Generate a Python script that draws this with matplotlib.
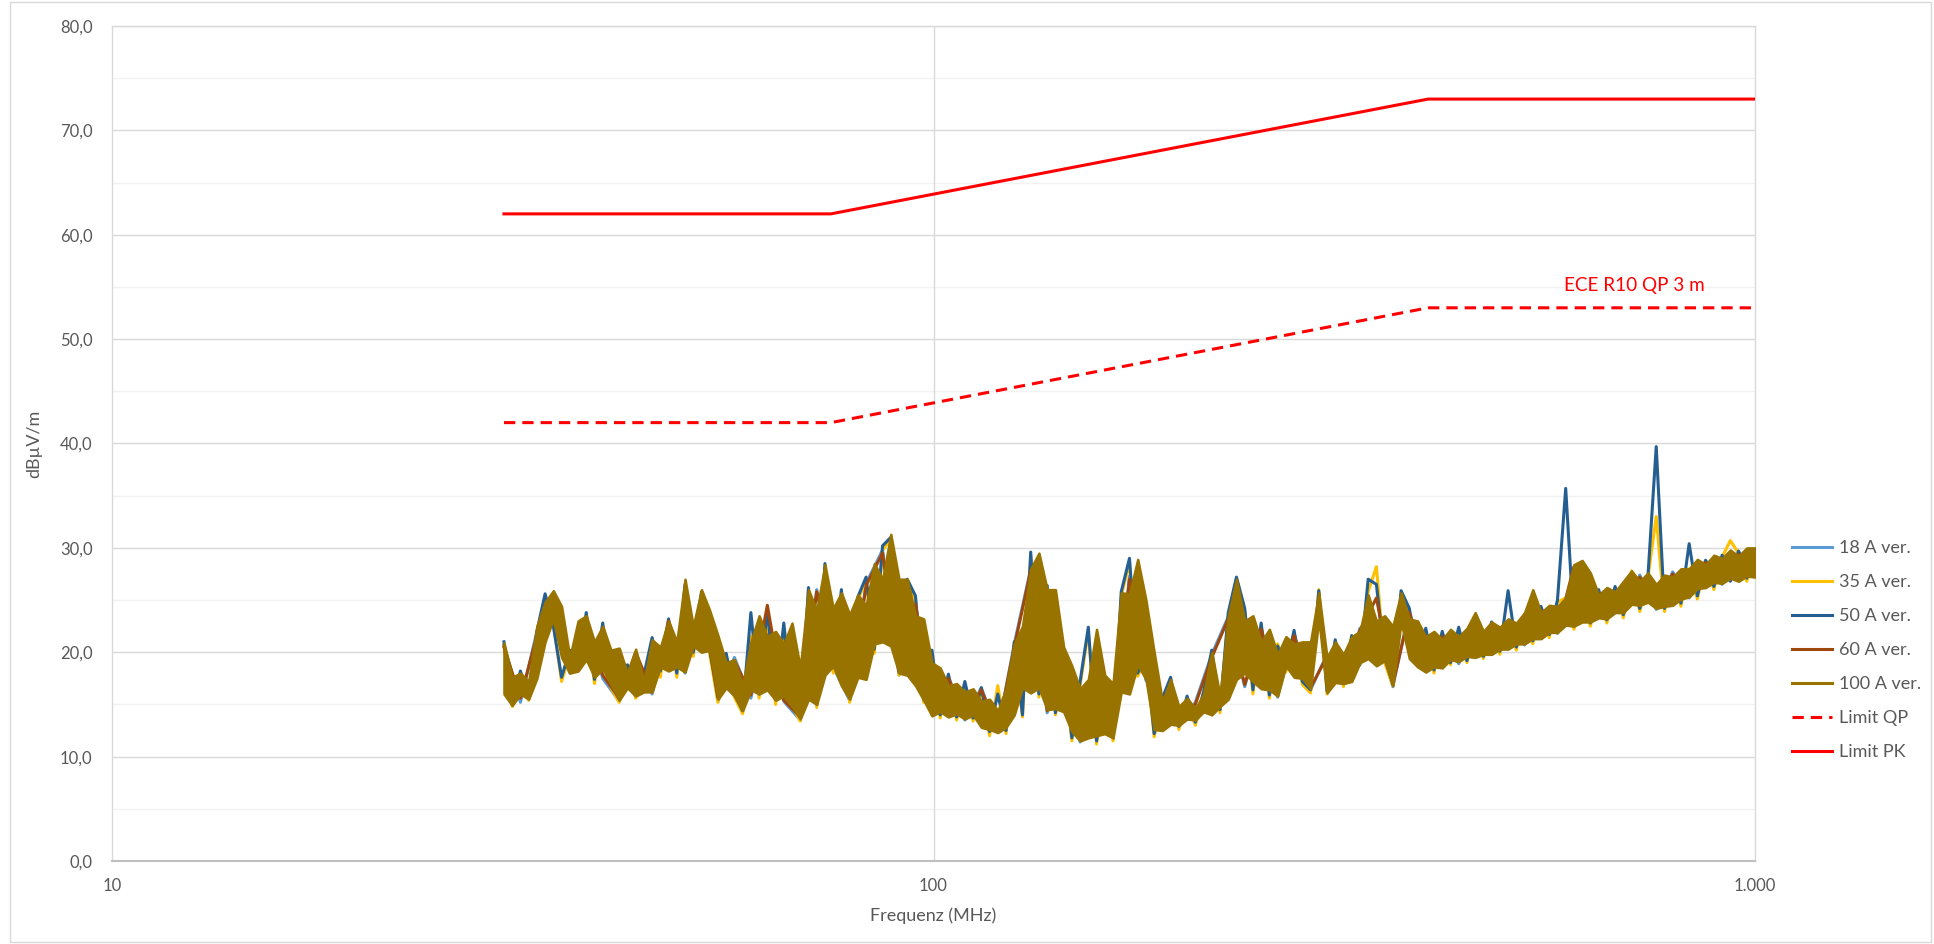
import numpy as np
import matplotlib
matplotlib.use("Agg")
import matplotlib.pyplot as plt
from matplotlib.patches import Rectangle
from matplotlib.lines import Line2D
from matplotlib.ticker import NullLocator

plt.rcParams['font.family'] = ['Lato', 'DejaVu Sans']

# limit lines (ECE R10, 3 m)
f_limit = [30, 75, 400, 1000]
limit_qp = [42, 42, 53, 53]
limit_pk = [62, 62, 73, 73]

# sweep grids (MHz), log spaced 30..1000
f_mid = np.geomspace(30, 1000, 153)
f_coarse = np.geomspace(30, 1000, 77)

# 100 A ver.: dense trace -> max / min per grid step (dBuV/m)
hi100 = [20.9, 17.6, 18.0, 17.2, 22.5, 24.8, 25.9, 24.4, 19.5, 23.0,
         23.5, 21.0, 22.5, 20.2, 20.4, 18.0, 20.3, 17.2, 21.2, 20.5,
         23.0, 21.0, 27.0, 22.5, 26.0, 24.0, 21.6, 19.0, 19.3, 16.8,
         21.0, 23.5, 21.5, 22.0, 20.8, 22.8, 18.5, 26.0, 24.0, 28.4,
         24.2, 25.7, 23.6, 25.5, 24.5, 28.5, 27.0, 31.3, 27.0, 27.0,
         23.5, 23.2, 19.0, 18.5, 16.8, 17.0, 16.2, 16.5, 15.3, 15.5,
         14.4, 16.5, 20.8, 22.5, 28.0, 29.5, 26.0, 26.0, 20.5, 18.7,
         16.5, 17.4, 22.2, 17.8, 17.0, 25.7, 25.6, 28.9, 25.0, 20.0,
         15.3, 17.4, 14.8, 15.6, 14.6, 16.0, 20.0, 15.8, 23.5, 27.0,
         23.0, 23.5, 21.0, 22.2, 19.8, 21.5, 20.8, 21.0, 21.0, 25.7,
         19.5, 21.0, 19.8, 21.5, 22.0, 25.5, 23.0, 23.5, 22.5, 25.7,
         23.2, 23.0, 21.5, 22.0, 21.2, 22.2, 21.5, 22.3, 23.8, 22.0,
         22.9, 22.4, 23.2, 22.8, 23.8, 26.0, 23.8, 24.5, 24.4, 25.2,
         28.4, 28.8, 27.6, 25.5, 26.2, 25.8, 26.8, 27.8, 26.8, 27.6,
         26.5, 27.4, 27.2, 28.0, 28.0, 28.9, 28.4, 29.3, 29.0, 29.8,
         29.2, 30.0, 30.0]
lo100 = [16.0, 14.9, 16.0, 15.5, 17.5, 21.0, 23.2, 19.5, 18.0, 18.2,
         19.3, 17.6, 18.4, 16.9, 15.4, 16.6, 15.8, 16.2, 16.2, 18.6,
         18.2, 18.6, 18.1, 20.6, 20.0, 20.2, 15.5, 16.6, 15.8, 14.4,
         16.4, 16.0, 16.4, 15.4, 15.8, 14.8, 13.6, 15.5, 15.0, 17.8,
         18.7, 16.8, 15.5, 17.6, 17.4, 20.8, 21.0, 20.6, 18.0, 17.8,
         16.8, 15.4, 13.9, 14.3, 13.8, 14.1, 13.6, 14.0, 12.8, 12.6,
         12.3, 12.8, 14.0, 16.6, 16.1, 16.6, 14.5, 14.6, 14.3, 12.4,
         11.5, 11.8, 12.0, 12.2, 11.8, 16.2, 16.0, 18.8, 17.4, 12.6,
         12.5, 13.1, 13.0, 13.6, 13.5, 14.3, 14.0, 14.8, 15.5, 17.4,
         18.0, 17.2, 16.5, 16.4, 15.8, 18.7, 17.6, 17.5, 16.5, 23.2,
         16.1, 17.1, 17.0, 17.2, 19.0, 19.4, 18.7, 19.2, 16.8, 22.9,
         19.4, 18.6, 18.1, 18.6, 18.5, 19.3, 19.1, 19.6, 19.5, 19.8,
         19.8, 20.3, 20.3, 20.8, 20.8, 21.3, 21.3, 21.9, 21.9, 22.6,
         22.5, 22.9, 22.9, 23.3, 23.2, 23.8, 23.8, 24.6, 24.5, 24.8,
         24.2, 24.4, 24.5, 25.1, 25.3, 26.1, 26.2, 26.7, 26.6, 27.1,
         26.8, 27.3, 27.2]

# 50 A ver.
s50 = [21.0, 15.0, 18.2, 15.7, 22.0, 25.6, 22.5, 17.6, 20.2, 18.5,
       23.8, 17.4, 22.8, 16.9, 15.5, 18.8, 16.0, 17.8, 21.4, 18.2,
       23.2, 18.0, 26.5, 20.0, 25.8, 20.2, 15.8, 19.9, 16.0, 14.4,
       23.8, 16.0, 24.2, 15.5, 22.8, 15.2, 13.8, 26.2, 15.0, 28.5,
       18.5, 26.0, 15.6, 25.3, 27.2, 20.3, 30.2, 31.0, 18.2, 27.0,
       25.4, 15.5, 20.2, 14.0, 17.9, 13.8, 17.2, 13.7, 16.6, 12.4,
       16.0, 12.5, 21.0, 14.0, 29.6, 16.0, 26.4, 14.2, 18.9, 11.8,
       17.2, 22.4, 11.5, 17.0, 11.8, 25.8, 29.0, 18.0, 19.8, 12.2,
       15.6, 17.6, 12.9, 15.8, 13.3, 16.2, 20.2, 14.5, 23.8, 27.2,
       24.2, 16.4, 22.8, 15.9, 20.6, 18.4, 22.1, 17.2, 16.4, 25.9,
       16.3, 21.2, 17.0, 21.6, 18.8, 27.0, 26.5, 19.5, 17.0, 25.9,
       24.2, 19.2, 22.3, 18.3, 22.0, 19.0, 22.4, 19.2, 22.6, 19.6,
       22.9, 20.1, 25.9, 20.5, 23.6, 21.1, 24.4, 21.7, 25.0, 35.7,
       22.5, 25.3, 22.8, 26.0, 23.1, 26.3, 23.6, 27.0, 24.2, 27.4,
       39.7, 24.2, 27.5, 24.7, 30.4, 25.4, 28.8, 26.3, 29.3, 26.8,
       29.7, 27.1, 29.6]

# 35 A ver.
s35 = [20.6, 14.8, 18.0, 15.4, 21.5, 25.2, 22.8, 17.2, 19.8, 18.2,
       23.0, 17.0, 22.4, 16.6, 15.2, 18.5, 15.6, 17.6, 21.0, 17.6,
       22.8, 17.6, 26.2, 19.6, 25.5, 19.8, 15.2, 19.6, 15.7, 14.1,
       21.5, 15.6, 23.5, 15.0, 22.3, 14.9, 13.4, 25.9, 14.7, 28.0,
       18.0, 25.5, 15.2, 25.0, 26.9, 19.9, 29.8, 30.8, 17.8, 26.7,
       25.0, 15.2, 19.8, 13.7, 17.6, 13.5, 16.9, 13.4, 16.4, 12.0,
       16.8, 12.2, 20.6, 13.8, 29.2, 15.7, 26.0, 14.0, 18.5, 11.5,
       16.8, 22.0, 11.2, 16.7, 11.5, 25.4, 28.6, 17.7, 19.5, 11.9,
       15.4, 17.2, 12.6, 15.6, 13.0, 15.9, 19.8, 14.2, 23.4, 27.0,
       24.0, 16.0, 22.6, 15.6, 20.8, 18.1, 21.8, 16.9, 16.1, 26.0,
       16.0, 21.0, 16.7, 21.4, 19.0, 25.8, 28.2, 19.0, 16.8, 25.6,
       23.8, 19.0, 22.1, 18.0, 21.8, 18.8, 22.1, 19.0, 22.4, 19.4,
       22.7, 19.8, 23.0, 20.2, 23.4, 20.8, 24.2, 21.4, 24.8, 25.2,
       22.2, 25.0, 22.5, 25.8, 22.8, 26.2, 23.3, 27.8, 23.9, 27.2,
       33.0, 23.9, 27.3, 24.4, 28.0, 25.1, 28.7, 26.0, 29.1, 30.7,
       29.5, 26.8, 29.4]

# 18 A ver.
s18 = [20.7, 15.2, 22.0, 22.8, 18.0, 23.2, 17.5, 15.3, 19.5, 16.0,
       22.8, 18.0, 25.5, 15.3, 19.5, 15.6, 23.0, 15.3, 13.5, 26.0,
       18.6, 15.4, 26.6, 29.8, 17.8, 24.8, 14.0, 17.7, 13.5, 16.6,
       12.4, 20.8, 28.0, 14.2, 18.6, 11.4, 19.2, 11.7, 27.3, 17.3,
       15.6, 12.8, 15.2, 19.8, 23.4, 16.7, 22.4, 15.7, 21.8, 16.4,
       19.8, 16.9, 22.3, 22.0, 16.7, 24.0, 18.2, 21.7, 18.9, 22.5,
       19.8, 23.0, 20.7, 24.2, 21.8, 25.0, 22.8, 26.0, 23.6, 27.4,
       24.1, 27.7, 25.2, 28.8, 26.5, 29.6, 28.2]

# 60 A ver.
s60 = [20.5, 15.6, 21.6, 23.2, 18.3, 23.0, 17.8, 15.6, 20.0, 16.2,
       23.0, 18.2, 25.2, 15.6, 19.2, 15.9, 24.5, 15.4, 13.8, 25.8,
       18.9, 15.7, 26.4, 29.5, 18.1, 24.6, 14.2, 17.5, 13.7, 16.4,
       12.6, 20.5, 27.8, 14.4, 18.4, 11.6, 19.0, 11.9, 27.0, 17.5,
       15.4, 13.0, 15.0, 19.5, 23.2, 16.9, 22.2, 15.9, 21.6, 16.6,
       19.6, 17.1, 22.1, 25.2, 16.9, 23.8, 18.4, 21.5, 19.1, 22.3,
       20.0, 22.8, 20.9, 24.0, 22.0, 28.2, 23.0, 25.8, 23.8, 27.2,
       24.3, 27.5, 25.4, 28.6, 26.6, 29.4, 28.4]

y_ticks = [0, 10, 20, 30, 40, 50, 60, 70, 80]
y_labels = ['0,0', '10,0', '20,0', '30,0', '40,0', '50,0', '60,0', '70,0', '80,0']
x_ticks = [10, 100, 1000]
x_labels = ['10', '100', '1.000']

c18, c35, c50, c60, c100, cred = '#5B9BD5', '#FFC000', '#255E91', '#9E480E', '#997300', '#FF0000'

W, H = 1934, 944
fig = plt.figure(figsize=(W / 100, H / 100), dpi=100)
fig.patches.append(Rectangle((10 / W, 2 / H), 1921 / W, 940 / H, transform=fig.transFigure,
                             fill=False, edgecolor='#d9d9d9', lw=1.0))

ax = fig.add_axes([112 / W, 1 - 861 / H, (1755 - 112) / W, (861 - 26) / H])
ax.set_xscale('log')
ax.set_xlim(10, 1000)
ax.set_ylim(0, 80)

lw = 2.2
ax.plot(f_coarse, s18, color=c18, lw=lw, zorder=3)
ax.plot(f_mid, s35, color=c35, lw=lw, zorder=3)
ax.plot(f_mid, s50, color=c50, lw=lw, zorder=3)
ax.plot(f_coarse, s60, color=c60, lw=lw, zorder=3)
ax.fill_between(f_mid, lo100, hi100, facecolor=c100, edgecolor=c100, lw=1.8, zorder=3.5)
ax.plot(f_limit, limit_qp, color=cred, lw=lw, ls=(0, (3.7, 2.3)), zorder=4)
ax.plot(f_limit, limit_pk, color=cred, lw=lw, zorder=4)

ax.text(714, 55.1, 'ECE R10 QP 3 m', color=cred, fontsize=13.6, ha='center', va='center')

# grid like the excel chart
for v in range(5, 80, 10):
    ax.axhline(v, color='#f2f2f2', lw=1.0, zorder=1)
for v in range(10, 81, 10):
    ax.axhline(v, color='#d9d9d9', lw=1.0, zorder=1)
ax.axvline(100, color='#d9d9d9', lw=1.0, zorder=1)

ax.set_yticks(y_ticks)
ax.set_yticklabels(y_labels)
ax.set_xticks(x_ticks)
ax.set_xticklabels(x_labels)
ax.xaxis.set_minor_locator(NullLocator())
ax.tick_params(length=0, colors='#595959', labelsize=12)
ax.tick_params(axis='y', pad=14)
ax.tick_params(axis='x', pad=12)

for s in ['top', 'right', 'left']:
    ax.spines[s].set_color('#d9d9d9')
    ax.spines[s].set_linewidth(1.0)
ax.spines['bottom'].set_color('#bfbfbf')
ax.spines['bottom'].set_linewidth(1.5)

ax.set_ylabel('dBµV/m', color='#595959', fontsize=13, labelpad=13)
ax.set_xlabel('Frequenz (MHz)', color='#595959', fontsize=13, labelpad=10)

handles = [Line2D([], [], color=c18, lw=lw), Line2D([], [], color=c35, lw=lw),
           Line2D([], [], color=c50, lw=lw), Line2D([], [], color=c60, lw=lw),
           Line2D([], [], color=c100, lw=lw), Line2D([], [], color=cred, lw=lw, ls=(0, (3.7, 2.3))),
           Line2D([], [], color=cred, lw=lw)]
labels = ['18 A ver.', '35 A ver.', '50 A ver.', '60 A ver.', '100 A ver.', 'Limit QP', 'Limit PK']
ax.legend(handles, labels, loc='center left', bbox_to_anchor=(1792 / W, 1 - 650 / H),
          bbox_transform=fig.transFigure, frameon=False, fontsize=13, handlelength=2.2,
          handletextpad=0.4, labelspacing=1.0, borderpad=0, borderaxespad=0, labelcolor='#595959')

fig.savefig('out.png', dpi=100)
